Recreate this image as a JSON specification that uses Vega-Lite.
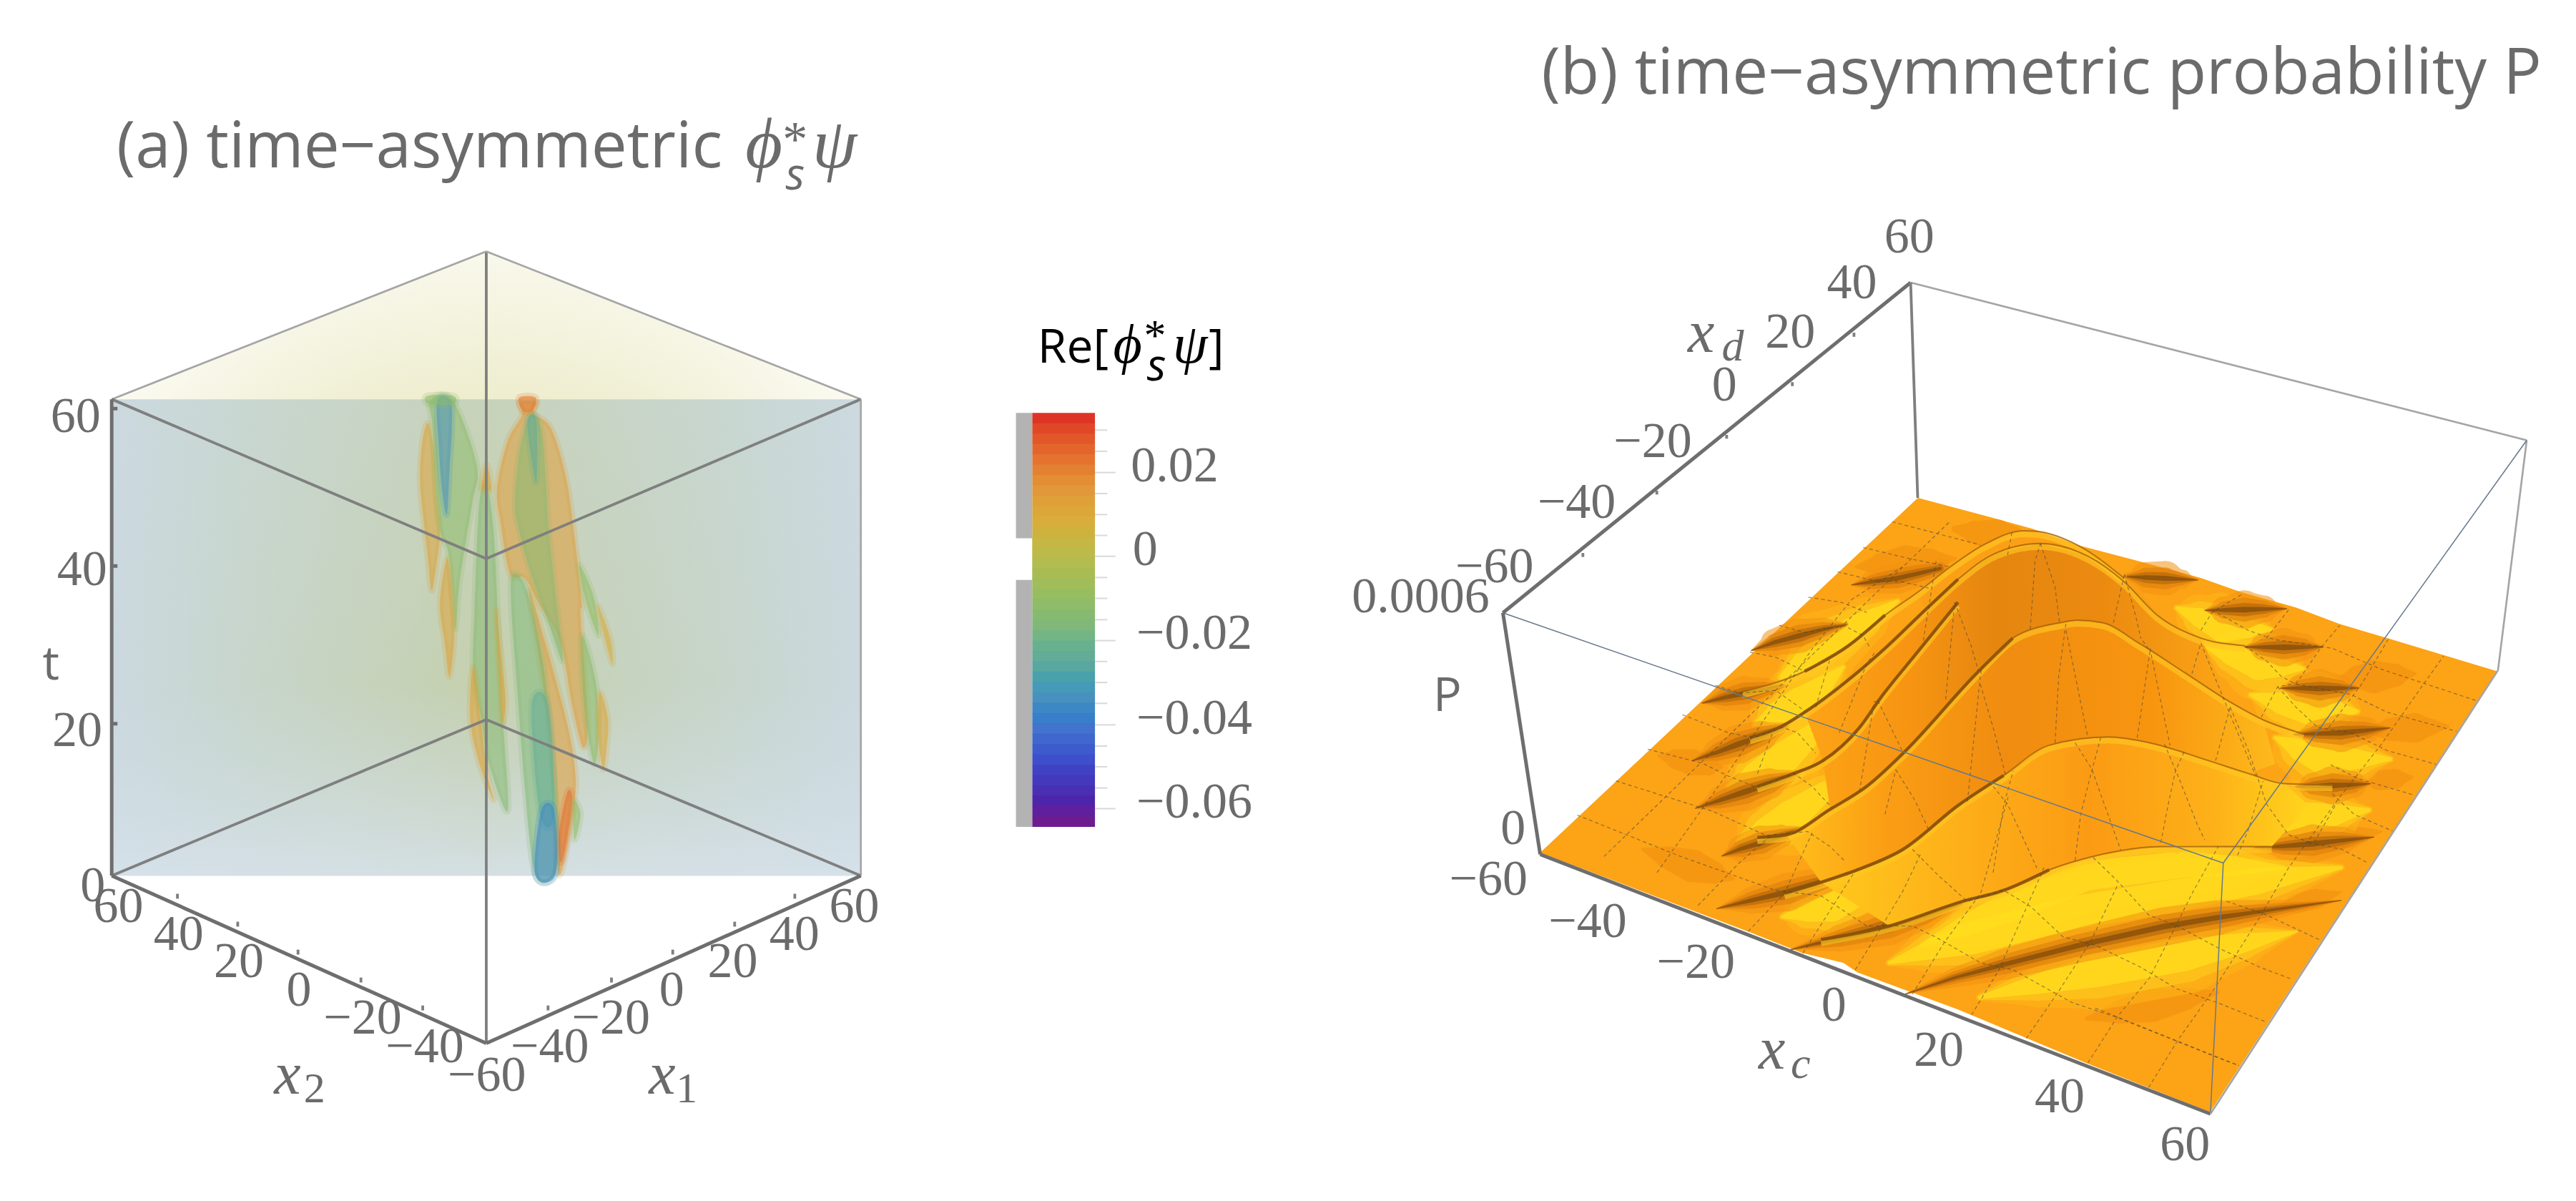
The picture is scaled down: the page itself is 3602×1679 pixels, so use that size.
{
"$schema":"https://vega.github.io/schema/vega-lite/v6.json",
"width":3602,"height":1679,
"autosize":{"type":"fit","contains":"padding"},
"padding":0,
"background":"white",
"config":{"view":{"stroke":null}},
"datasets":{
"rules":[
{"x":296,"y":153,"x2":296,"y2":340,"k":"b"},{"x":68,"y":243,"x2":296,"y2":153,"k":"c"},{"x":524,"y":243,"x2":296,"y2":153,"k":"c"},
{"x":68,"y":243,"x2":296,"y2":340,"k":"b"},{"x":524,"y":243,"x2":296,"y2":340,"k":"b"},{"x":296,"y":340,"x2":296,"y2":635,"k":"b"},
{"x":68,"y":533,"x2":296,"y2":438,"k":"b"},{"x":524,"y":533,"x2":296,"y2":438,"k":"b"},{"x":524,"y":243,"x2":524,"y2":533,"k":"c"},
{"x":68,"y":243,"x2":68,"y2":533,"k":"a"},{"x":68,"y":533,"x2":296,"y2":635,"k":"a"},{"x":524,"y":533,"x2":296,"y2":635,"k":"a"},
{"x":68,"y":248.7,"x2":71.5,"y2":248.7,"k":"a"},{"x":68,"y":344.5,"x2":71.5,"y2":344.5,"k":"a"},{"x":68,"y":440.5,"x2":71.5,"y2":440.5,"k":"a"},
{"x":108,"y":547,"x2":108,"y2":544,"k":"b"},{"x":144.7,"y":564,"x2":144.7,"y2":561,"k":"b"},{"x":181.4,"y":581,"x2":181.4,"y2":578,"k":"b"},{"x":219.7,"y":598,"x2":219.7,"y2":595,"k":"b"},{"x":257.3,"y":615,"x2":257.3,"y2":612,"k":"b"},
{"x":483.8,"y":547,"x2":483.8,"y2":544,"k":"b"},{"x":447.2,"y":564,"x2":447.2,"y2":561,"k":"b"},{"x":409.5,"y":581,"x2":409.5,"y2":578,"k":"b"},{"x":372.2,"y":598,"x2":372.2,"y2":595,"k":"b"},{"x":333.6,"y":615,"x2":333.6,"y2":612,"k":"b"},
{"x":914.8,"y":373,"x2":1163,"y2":172,"k":"a"},{"x":914.8,"y":373,"x2":937.5,"y2":520,"k":"a"},{"x":937.5,"y":520,"x2":1345.5,"y2":678,"k":"a"},
{"x":1163,"y":172,"x2":1538,"y2":268,"k":"c"},{"x":1163,"y":172,"x2":1167.3,"y2":303,"k":"b"},{"x":1538,"y":268,"x2":1520.5,"y2":408,"k":"c"},{"x":1520.5,"y":408,"x2":1345.5,"y2":678,"k":"c"},
{"x":914.8,"y":373,"x2":1353.3,"y2":525.3,"k":"d"},{"x":1538,"y":268,"x2":1353.3,"y2":525.3,"k":"d"},{"x":1353.3,"y":525.3,"x2":1345.5,"y2":677,"k":"d"},
{"x":963.5,"y":336.6,"x2":963.5,"y2":339,"k":"b"},{"x":1008.5,"y":298.7,"x2":1008.5,"y2":301,"k":"b"},{"x":1051,"y":264.7,"x2":1051,"y2":267,"k":"b"},{"x":1091,"y":232.6,"x2":1091,"y2":235,"k":"b"},{"x":1128.5,"y":202.5,"x2":1128.5,"y2":205,"k":"b"}
],
"barTicks":[
{"y":261.8,"x":666.5,"x2":674},{"y":274.7,"x":666.5,"x2":674},{"y":287.6,"x":666.5,"x2":679},{"y":300.4,"x":666.5,"x2":674},{"y":313.2,"x":666.5,"x2":674},{"y":325.9,"x":666.5,"x2":674},{"y":338.6,"x":666.5,"x2":679},{"y":351.5,"x":666.5,"x2":674},{"y":364.2,"x":666.5,"x2":674},{"y":377.2,"x":666.5,"x2":674},{"y":389.9,"x":666.5,"x2":679},{"y":402.6,"x":666.5,"x2":674},{"y":415.4,"x":666.5,"x2":674},{"y":428.1,"x":666.5,"x2":674},{"y":441.2,"x":666.5,"x2":679},{"y":454.1,"x":666.5,"x2":674},{"y":466.7,"x":666.5,"x2":674},{"y":479.6,"x":666.5,"x2":674},{"y":492.2,"x":666.5,"x2":679}
],
"bar":[
{"x":628.3,"x2":666.5,"y":251.3,"y2":258,"v":0.0329},{"x":628.3,"x2":666.5,"y":257.6,"y2":264.3,"v":0.0304},{"x":628.3,"x2":666.5,"y":263.9,"y2":270.6,"v":0.0279},{"x":628.3,"x2":666.5,"y":270.2,"y2":276.9,"v":0.0255},{"x":628.3,"x2":666.5,"y":276.5,"y2":283.2,"v":0.023},{"x":628.3,"x2":666.5,"y":282.8,"y2":289.5,"v":0.0206},{"x":628.3,"x2":666.5,"y":289.1,"y2":295.8,"v":0.0181},{"x":628.3,"x2":666.5,"y":295.4,"y2":302.1,"v":0.0156},{"x":628.3,"x2":666.5,"y":301.7,"y2":308.4,"v":0.0132},{"x":628.3,"x2":666.5,"y":308,"y2":314.7,"v":0.0107},
{"x":628.3,"x2":666.5,"y":314.3,"y2":321,"v":0.0083},{"x":628.3,"x2":666.5,"y":320.6,"y2":327.3,"v":0.0058},{"x":628.3,"x2":666.5,"y":326.9,"y2":333.6,"v":0.0033},{"x":628.3,"x2":666.5,"y":333.2,"y2":339.9,"v":0.0009},{"x":628.3,"x2":666.5,"y":339.5,"y2":346.2,"v":-0.0016},{"x":628.3,"x2":666.5,"y":345.8,"y2":352.5,"v":-0.004},{"x":628.3,"x2":666.5,"y":352.1,"y2":358.8,"v":-0.0065},{"x":628.3,"x2":666.5,"y":358.4,"y2":365.1,"v":-0.009},{"x":628.3,"x2":666.5,"y":364.7,"y2":371.4,"v":-0.0114},{"x":628.3,"x2":666.5,"y":371,"y2":377.7,"v":-0.0139},
{"x":628.3,"x2":666.5,"y":377.3,"y2":384,"v":-0.0163},{"x":628.3,"x2":666.5,"y":383.6,"y2":390.3,"v":-0.0188},{"x":628.3,"x2":666.5,"y":389.9,"y2":396.6,"v":-0.0213},{"x":628.3,"x2":666.5,"y":396.2,"y2":402.9,"v":-0.0237},{"x":628.3,"x2":666.5,"y":402.5,"y2":409.2,"v":-0.0262},{"x":628.3,"x2":666.5,"y":408.8,"y2":415.5,"v":-0.0286},{"x":628.3,"x2":666.5,"y":415.1,"y2":421.8,"v":-0.0311},{"x":628.3,"x2":666.5,"y":421.4,"y2":428.1,"v":-0.0336},{"x":628.3,"x2":666.5,"y":427.7,"y2":434.4,"v":-0.036},{"x":628.3,"x2":666.5,"y":434,"y2":440.7,"v":-0.0385},
{"x":628.3,"x2":666.5,"y":440.3,"y2":447,"v":-0.0409},{"x":628.3,"x2":666.5,"y":446.6,"y2":453.3,"v":-0.0434},{"x":628.3,"x2":666.5,"y":452.9,"y2":459.6,"v":-0.0459},{"x":628.3,"x2":666.5,"y":459.2,"y2":465.9,"v":-0.0483},{"x":628.3,"x2":666.5,"y":465.5,"y2":472.2,"v":-0.0508},{"x":628.3,"x2":666.5,"y":471.8,"y2":478.5,"v":-0.0532},{"x":628.3,"x2":666.5,"y":478.1,"y2":484.8,"v":-0.0557},{"x":628.3,"x2":666.5,"y":484.4,"y2":491.1,"v":-0.0582},{"x":628.3,"x2":666.5,"y":490.7,"y2":497.4,"v":-0.0606},{"x":628.3,"x2":666.5,"y":497,"y2":503.3,"v":-0.0631}
],
"barSide":[{"x":618.4,"x2":628.3,"y":251.3,"y2":327.6},{"x":618.4,"x2":628.3,"y":353,"y2":503.3}],
"stripes":[{"x":72},{"x":78.5},{"x":85},{"x":91.5},{"x":98},{"x":104.5},{"x":111},{"x":117.5},{"x":124},{"x":130.5},{"x":137},{"x":143.5},{"x":150},{"x":156.5},{"x":163},{"x":169.5},{"x":176},{"x":182.5},{"x":189},{"x":195.5},{"x":202},{"x":208.5},{"x":215},{"x":221.5},{"x":228},{"x":234.5},{"x":241},{"x":247.5},{"x":254},{"x":260.5},{"x":267},{"x":273.5},{"x":280},{"x":286.5},{"x":293},{"x":299.5},{"x":306},{"x":312.5},{"x":319},{"x":325.5},{"x":332},{"x":338.5},{"x":345},{"x":351.5},{"x":358},{"x":364.5},{"x":371},{"x":377.5},{"x":384},{"x":390.5},{"x":397},{"x":403.5},{"x":410},{"x":416.5},{"x":423},{"x":429.5},{"x":436},{"x":442.5},{"x":449},{"x":455.5},{"x":462},{"x":468.5},{"x":475},{"x":481.5},{"x":488},{"x":494.5},{"x":501},{"x":507.5},{"x":514},{"x":520.5}],
"volume":[{"x":69,"x2":524,"y":243,"y2":533}],
"top":[{"x":68,"y":243},{"x":296,"y":153},{"x":524,"y":243}],
"blobs":[
{"id":"a1","v":0.012,"x":260.5,"y":257.4},{"id":"a1","v":0.012,"x":256.9,"y":270.1},{"id":"a1","v":0.012,"x":255.7,"y":293.4},{"id":"a1","v":0.012,"x":258.3,"y":320.6},{"id":"a1","v":0.012,"x":260.5,"y":340},{"id":"a1","v":0.012,"x":262.7,"y":359.5},{"id":"a1","v":0.012,"x":265.6,"y":343.9},{"id":"a1","v":0.012,"x":267.8,"y":324.5},{"id":"a1","v":0.012,"x":265.6,"y":303.1},{"id":"a1","v":0.012,"x":264.1,"y":274},
{"id":"a2","v":-0.012,"x":262,"y":243.8},{"id":"a2","v":-0.012,"x":275.7,"y":243.8},{"id":"a2","v":-0.012,"x":290.3,"y":283.7},{"id":"a2","v":-0.012,"x":287.3,"y":307},{"id":"a2","v":-0.012,"x":280.1,"y":351.7},{"id":"a2","v":-0.012,"x":277.2,"y":382.8},{"id":"a2","v":-0.012,"x":275,"y":359.5},{"id":"a2","v":-0.012,"x":272.8,"y":336.1},{"id":"a2","v":-0.012,"x":267.8,"y":322.5},{"id":"a2","v":-0.012,"x":264.9,"y":293.4},{"id":"a2","v":-0.012,"x":263.4,"y":260.4},
{"id":"a3","v":-0.033,"x":266.3,"y":243.8},{"id":"a3","v":-0.033,"x":274.3,"y":243.8},{"id":"a3","v":-0.033,"x":275,"y":260.4},{"id":"a3","v":-0.033,"x":273.6,"y":285.6},{"id":"a3","v":-0.033,"x":272.1,"y":312.8},{"id":"a3","v":-0.033,"x":269.2,"y":299.2},{"id":"a3","v":-0.033,"x":267,"y":270.1},
{"id":"a4","v":0.012,"x":272.1,"y":340},{"id":"a4","v":0.012,"x":267.8,"y":367.2},{"id":"a4","v":0.012,"x":270.7,"y":390.5},{"id":"a4","v":0.012,"x":273.6,"y":411.9},{"id":"a4","v":0.012,"x":276.5,"y":386.7},{"id":"a4","v":0.012,"x":275,"y":361.4},
{"id":"c1","v":-0.014,"x":296,"y":294.4},{"id":"c1","v":-0.014,"x":291.7,"y":307},{"id":"c1","v":-0.014,"x":288.8,"y":371.1},{"id":"c1","v":-0.014,"x":288.1,"y":410},{"id":"c1","v":-0.014,"x":293.2,"y":439.1},{"id":"c1","v":-0.014,"x":297.5,"y":464.4},{"id":"c1","v":-0.014,"x":309.1,"y":493.5},{"id":"c1","v":-0.014,"x":306.2,"y":439.1},{"id":"c1","v":-0.014,"x":303.3,"y":380.8},{"id":"c1","v":-0.014,"x":300.4,"y":322.5},
{"id":"c2","v":0.012,"x":296,"y":282.7},{"id":"c2","v":0.012,"x":293.2,"y":297.3},{"id":"c2","v":0.012,"x":299,"y":297.3},
{"id":"c3","v":0.012,"x":288.1,"y":406},{"id":"c3","v":0.012,"x":286.2,"y":437.2},{"id":"c3","v":0.012,"x":291.7,"y":464.4},{"id":"c3","v":0.012,"x":300.4,"y":486.7},{"id":"c3","v":0.012,"x":296,"y":468.3},{"id":"c3","v":0.012,"x":292.4,"y":437.2},
{"id":"c4","v":0.012,"x":301.9,"y":371.1},{"id":"c4","v":0.012,"x":306.2,"y":410},{"id":"c4","v":0.012,"x":307.7,"y":429.4},{"id":"c4","v":0.012,"x":305.5,"y":439.1},{"id":"c4","v":0.012,"x":304,"y":410},
{"id":"r1","v":0.014,"x":316.4,"y":244.8},{"id":"r1","v":0.014,"x":326.5,"y":244.8},{"id":"r1","v":0.014,"x":325.1,"y":251.6},{"id":"r1","v":0.014,"x":335.2,"y":260.4},{"id":"r1","v":0.014,"x":343.9,"y":287.6},{"id":"r1","v":0.014,"x":349,"y":320.6},{"id":"r1","v":0.014,"x":354.1,"y":367.2},{"id":"r1","v":0.014,"x":353.4,"y":375},{"id":"r1","v":0.014,"x":357.7,"y":439.1},{"id":"r1","v":0.014,"x":354.8,"y":454.7},{"id":"r1","v":0.014,"x":348.3,"y":429.4},{"id":"r1","v":0.014,"x":341,"y":390.5},{"id":"r1","v":0.014,"x":328,"y":367.2},{"id":"r1","v":0.014,"x":319.3,"y":351.7},{"id":"r1","v":0.014,"x":310.6,"y":349.7},{"id":"r1","v":0.014,"x":304.8,"y":318.7},{"id":"r1","v":0.014,"x":302.6,"y":297.3},{"id":"r1","v":0.014,"x":309.1,"y":268.1},{"id":"r1","v":0.014,"x":317.8,"y":252.6},
{"id":"r2","v":-0.014,"x":322.9,"y":252.6},{"id":"r2","v":-0.014,"x":329.4,"y":260.4},{"id":"r2","v":-0.014,"x":332.3,"y":293.4},{"id":"r2","v":-0.014,"x":333.8,"y":320.6},{"id":"r2","v":-0.014,"x":338.1,"y":361.4},{"id":"r2","v":-0.014,"x":342.5,"y":402.2},{"id":"r2","v":-0.014,"x":333.8,"y":378.9},{"id":"r2","v":-0.014,"x":322.2,"y":345.8},{"id":"r2","v":-0.014,"x":316.4,"y":324.5},{"id":"r2","v":-0.014,"x":313.5,"y":307},{"id":"r2","v":-0.014,"x":316.4,"y":274},
{"id":"r3","v":-0.024,"x":321.4,"y":254.5},{"id":"r3","v":-0.024,"x":326.5,"y":256.5},{"id":"r3","v":-0.024,"x":326.5,"y":293.4},{"id":"r3","v":-0.024,"x":322.2,"y":270.1},
{"id":"l2","v":0.014,"x":322.2,"y":359.5},{"id":"l2","v":0.014,"x":332.3,"y":392.5},{"id":"l2","v":0.014,"x":345.4,"y":441.1},{"id":"l2","v":0.014,"x":350,"y":468.3},{"id":"l2","v":0.014,"x":349.7,"y":487.7},{"id":"l2","v":0.014,"x":342.5,"y":528.5},{"id":"l2","v":0.014,"x":338.9,"y":526.6},{"id":"l2","v":0.014,"x":338.1,"y":487.7},{"id":"l2","v":0.014,"x":333.8,"y":439.1},{"id":"l2","v":0.014,"x":326.5,"y":390.5},
{"id":"l1","v":-0.016,"x":312,"y":349.7},{"id":"l1","v":-0.016,"x":320.7,"y":359.5},{"id":"l1","v":-0.016,"x":330.9,"y":406.1},{"id":"l1","v":-0.016,"x":336.7,"y":468.3},{"id":"l1","v":-0.016,"x":339.6,"y":507.1},{"id":"l1","v":-0.016,"x":337.4,"y":532.4},{"id":"l1","v":-0.016,"x":325.8,"y":532.4},{"id":"l1","v":-0.016,"x":319.3,"y":478},{"id":"l1","v":-0.016,"x":314.9,"y":419.7},{"id":"l1","v":-0.016,"x":311.3,"y":371.1},
{"id":"l3","v":0.024,"x":345.4,"y":481.9},{"id":"l3","v":0.024,"x":348.3,"y":487.7},{"id":"l3","v":0.024,"x":343.9,"y":516.8},{"id":"l3","v":0.024,"x":341,"y":524.6},{"id":"l3","v":0.024,"x":340.3,"y":507.1},
{"id":"l5","v":-0.023,"x":323.6,"y":429.4},{"id":"l5","v":-0.023,"x":333.8,"y":429.4},{"id":"l5","v":-0.023,"x":337.4,"y":495.5},{"id":"l5","v":-0.023,"x":328.7,"y":495.5},
{"id":"l4","v":-0.037,"x":329.4,"y":493.5},{"id":"l4","v":-0.037,"x":337.4,"y":493.5},{"id":"l4","v":-0.037,"x":338.1,"y":532.4},{"id":"l4","v":-0.037,"x":325.8,"y":532.4},
{"id":"g1","v":-0.012,"x":354.1,"y":386.7},{"id":"g1","v":-0.012,"x":362.8,"y":415.8},{"id":"g1","v":-0.012,"x":364.3,"y":448.8},{"id":"g1","v":-0.012,"x":361.4,"y":464.4},{"id":"g1","v":-0.012,"x":355.6,"y":429.4},
{"id":"g2","v":0.011,"x":365,"y":421.6},{"id":"g2","v":0.011,"x":370,"y":437.2},{"id":"g2","v":0.011,"x":369.3,"y":454.7},{"id":"g2","v":0.011,"x":367.2,"y":468.3},{"id":"g2","v":0.011,"x":364.3,"y":448.8},
{"id":"g3","v":-0.01,"x":352.6,"y":343.9},{"id":"g3","v":-0.01,"x":361.4,"y":363.3},{"id":"g3","v":-0.01,"x":364.3,"y":386.7},{"id":"g3","v":-0.01,"x":357,"y":367.2},
{"id":"g4","v":0.009,"x":364.3,"y":369.2},{"id":"g4","v":0.009,"x":371.5,"y":388.6},{"id":"g4","v":0.009,"x":372.7,"y":404.1},{"id":"g4","v":0.009,"x":367.2,"y":384.7},
{"id":"g5","v":-0.01,"x":349,"y":487.7},{"id":"g5","v":-0.01,"x":353.4,"y":495.5},{"id":"g5","v":-0.01,"x":349.7,"y":511},
{"id":"t1","v":-0.012,"x":260,"y":241},{"id":"t1","v":-0.012,"x":276,"y":241},{"id":"t1","v":-0.012,"x":276,"y":246},{"id":"t1","v":-0.012,"x":261,"y":246},
{"id":"t2","v":0.022,"x":316,"y":242},{"id":"t2","v":0.022,"x":326,"y":242},{"id":"t2","v":0.022,"x":324,"y":250},{"id":"t2","v":0.022,"x":318,"y":250}
],
"surface":[
{"x":1167.4,"y":303},{"x":1205,"y":313},{"x":1237.6,"y":322},{"x":1264,"y":331.6},{"x":1299.8,"y":341},{"x":1339.7,"y":351.8},{"x":1364,"y":360.4},{"x":1397.5,"y":369.7},{"x":1424,"y":379.8},{"x":1453,"y":388.4},{"x":1520.1,"y":408.6},{"x":1345.3,"y":676.9},{"x":1269.5,"y":646.9},{"x":1191.8,"y":614.4},{"x":1130.7,"y":591.9},{"x":1122,"y":586},{"x":1097,"y":580},{"x":1064,"y":567},{"x":937.5,"y":519}
],
"glow":[
{"id":"g1","x":1085,"y":412,"w":0.2},{"id":"g1","x":1107,"y":396,"w":1},{"id":"g1","x":1135,"y":378,"w":0.6},{"id":"g1","x":1155,"y":366,"w":0.1},
{"id":"g2","x":1068,"y":441,"w":0.1},{"id":"g2","x":1082,"y":434,"w":0.7},{"id":"g2","x":1096,"y":428,"w":1},{"id":"g2","x":1110,"y":417,"w":0.6},{"id":"g2","x":1122,"y":406,"w":0.1},
{"id":"g3","x":1052,"y":479,"w":0.1},{"id":"g3","x":1068,"y":471,"w":0.7},{"id":"g3","x":1085,"y":462,"w":1},{"id":"g3","x":1104,"y":446,"w":0.6},{"id":"g3","x":1122,"y":430,"w":0.1},
{"id":"g4","x":1058,"y":512,"w":0.1},{"id":"g4","x":1074,"y":505,"w":0.7},{"id":"g4","x":1090,"y":497,"w":1},{"id":"g4","x":1110,"y":482,"w":0.6},{"id":"g4","x":1128,"y":468,"w":0.1},
{"id":"g5","x":1085,"y":558,"w":0.1},{"id":"g5","x":1100,"y":555,"w":0.6},{"id":"g5","x":1115,"y":552,"w":0.9},{"id":"g5","x":1150,"y":535,"w":0.5},{"id":"g5","x":1165,"y":525,"w":0.1},
{"id":"g6","x":1170,"y":575,"w":0.1},{"id":"g6","x":1195,"y":564,"w":0.6},{"id":"g6","x":1220,"y":553,"w":0.9},{"id":"g6","x":1270,"y":533,"w":0.9},{"id":"g6","x":1330,"y":526,"w":0.8},{"id":"g6","x":1360,"y":527,"w":0.6},{"id":"g6","x":1390,"y":528,"w":0.1},
{"id":"g7","x":1150,"y":586,"w":0.1},{"id":"g7","x":1175,"y":578,"w":0.6},{"id":"g7","x":1200,"y":571,"w":1},{"id":"g7","x":1260,"y":556,"w":1},{"id":"g7","x":1320,"y":546,"w":1},{"id":"g7","x":1375,"y":536,"w":0.8},{"id":"g7","x":1425,"y":528,"w":0.1},
{"id":"g8","x":1205,"y":607,"w":0.1},{"id":"g8","x":1240,"y":599,"w":0.6},{"id":"g8","x":1275,"y":591,"w":1},{"id":"g8","x":1330,"y":581,"w":1},{"id":"g8","x":1365,"y":574,"w":0.6},{"id":"g8","x":1398,"y":567,"w":0.05},
{"id":"h1","x":1325,"y":370,"w":0.1},{"id":"h1","x":1339,"y":376,"w":0.6},{"id":"h1","x":1353,"y":382,"w":0.9},{"id":"h1","x":1368,"y":382.5,"w":0.6},{"id":"h1","x":1382,"y":383,"w":0.1},
{"id":"h2","x":1342,"y":393,"w":0.1},{"id":"h2","x":1358,"y":399,"w":0.6},{"id":"h2","x":1375,"y":405,"w":0.9},{"id":"h2","x":1388,"y":406,"w":0.6},{"id":"h2","x":1402,"y":407,"w":0.1},
{"id":"h3","x":1370,"y":423,"w":0.1},{"id":"h3","x":1389,"y":428,"w":0.7},{"id":"h3","x":1408,"y":432,"w":1},{"id":"h3","x":1422,"y":432.5,"w":0.6},{"id":"h3","x":1435,"y":433,"w":0.1},
{"id":"h4","x":1385,"y":449,"w":0.1},{"id":"h4","x":1400,"y":456,"w":0.7},{"id":"h4","x":1415,"y":462,"w":1},{"id":"h4","x":1435,"y":462,"w":0.6},{"id":"h4","x":1455,"y":462,"w":0.1},
{"id":"h5","x":1365,"y":488,"w":0.1},{"id":"h5","x":1381,"y":493,"w":0.7},{"id":"h5","x":1397,"y":498,"w":1},{"id":"h5","x":1420,"y":496,"w":0.7},{"id":"h5","x":1442,"y":493,"w":0.1}
],
"faint":[
{"id":"f1","x":1190,"y":322,"w":0.2},{"id":"f1","x":1202,"y":324,"w":0.7},{"id":"f1","x":1215,"y":326,"w":1},{"id":"f1","x":1225,"y":327,"w":0.7},{"id":"f1","x":1235,"y":328,"w":0.1},
{"id":"f2","x":1130,"y":345,"w":0.1},{"id":"f2","x":1145,"y":343.5,"w":0.7},{"id":"f2","x":1160,"y":342,"w":1},{"id":"f2","x":1175,"y":341,"w":0.7},{"id":"f2","x":1190,"y":340,"w":0.1},
{"id":"f3","x":1010,"y":460,"w":0.1},{"id":"f3","x":1020,"y":462,"w":0.6},{"id":"f3","x":1030,"y":464,"w":0.8},{"id":"f3","x":1040,"y":466,"w":0.6},{"id":"f3","x":1048,"y":467,"w":0.1},
{"id":"f4","x":1000,"y":517,"w":0.1},{"id":"f4","x":1015,"y":522,"w":0.7},{"id":"f4","x":1030,"y":527,"w":1},{"id":"f4","x":1043,"y":531,"w":0.7},{"id":"f4","x":1055,"y":535,"w":0.1},
{"id":"f5","x":1270,"y":620,"w":0.1},{"id":"f5","x":1290,"y":616,"w":0.7},{"id":"f5","x":1310,"y":612,"w":1},{"id":"f5","x":1330,"y":608,"w":0.7},{"id":"f5","x":1350,"y":604,"w":0.1},
{"id":"f6","x":1425,"y":412,"w":0.1},{"id":"f6","x":1435,"y":412,"w":0.7},{"id":"f6","x":1445,"y":412,"w":1},{"id":"f6","x":1458,"y":411,"w":0.7},{"id":"f6","x":1470,"y":410,"w":0.1},
{"id":"f7","x":1440,"y":445,"w":0.1},{"id":"f7","x":1455,"y":444,"w":0.7},{"id":"f7","x":1470,"y":443,"w":0.9},{"id":"f7","x":1480,"y":442.5,"w":0.5},{"id":"f7","x":1490,"y":442,"w":0.1},
{"id":"f8","x":1438,"y":476,"w":0.1},{"id":"f8","x":1448,"y":475,"w":0.6},{"id":"f8","x":1458,"y":474,"w":0.6},{"id":"f8","x":1468,"y":473,"w":0.1},
{"id":"f9","x":1385,"y":553,"w":0.1},{"id":"f9","x":1397,"y":550,"w":0.6},{"id":"f9","x":1410,"y":547,"w":0.6},{"id":"f9","x":1425,"y":543,"w":0.05},
{"id":"f10","x":1380,"y":513,"w":0.1},{"id":"f10","x":1410,"y":511,"w":0.7},{"id":"f10","x":1430,"y":509,"w":0.7},{"id":"f10","x":1450,"y":506,"w":0.05}
],
"streaks":[
{"id":"s0","x":1127,"y":356,"w":0},{"id":"s0","x":1140,"y":354,"w":0.6},{"id":"s0","x":1155,"y":352,"w":0.8},{"id":"s0","x":1168,"y":349,"w":0.7},{"id":"s0","x":1181,"y":346,"w":0.5},
{"id":"s1","x":1066,"y":396,"w":0},{"id":"s1","x":1080,"y":391,"w":0.7},{"id":"s1","x":1095,"y":387,"w":0.9},{"id":"s1","x":1110,"y":383,"w":0.6},{"id":"s1","x":1124,"y":380,"w":0.1},
{"id":"s2","x":1036,"y":428,"w":0},{"id":"s2","x":1050,"y":424.5,"w":0.7},{"id":"s2","x":1062,"y":422,"w":0.9},{"id":"s2","x":1074,"y":419.5,"w":0.6},{"id":"s2","x":1086,"y":417,"w":0.1},
{"id":"s3","x":1030,"y":463,"w":0},{"id":"s3","x":1045,"y":458,"w":0.7},{"id":"s3","x":1058,"y":453,"w":1},{"id":"s3","x":1072,"y":448,"w":0.8},{"id":"s3","x":1087,"y":442,"w":0.2},
{"id":"s4","x":1032,"y":492,"w":0},{"id":"s4","x":1047,"y":487,"w":0.7},{"id":"s4","x":1062,"y":482,"w":1},{"id":"s4","x":1077,"y":477,"w":0.8},{"id":"s4","x":1093,"y":471,"w":0.2},
{"id":"s5","x":1048,"y":521,"w":0},{"id":"s5","x":1060,"y":516.5,"w":0.7},{"id":"s5","x":1072,"y":513,"w":0.9},{"id":"s5","x":1084,"y":509,"w":0.6},{"id":"s5","x":1097,"y":504,"w":0.1},
{"id":"s6","x":1045,"y":553,"w":0},{"id":"s6","x":1066,"y":548,"w":0.7},{"id":"s6","x":1088,"y":543,"w":1},{"id":"s6","x":1110,"y":536,"w":0.7},{"id":"s6","x":1132,"y":529,"w":0.1},
{"id":"s7","x":1090,"y":578,"w":0},{"id":"s7","x":1120,"y":571,"w":0.7},{"id":"s7","x":1150,"y":563.6,"w":1},{"id":"s7","x":1172,"y":557,"w":0.7},{"id":"s7","x":1194,"y":550,"w":0.1},
{"id":"s8","x":1160,"y":605,"w":0},{"id":"s8","x":1190,"y":595,"w":0.5},{"id":"s8","x":1220,"y":587,"w":0.8},{"id":"s8","x":1267,"y":575,"w":0.9},{"id":"s8","x":1317,"y":564,"w":1},{"id":"s8","x":1350,"y":558.5,"w":0.9},{"id":"s8","x":1385,"y":553.5,"w":0.5},{"id":"s8","x":1425,"y":548,"w":0},
{"id":"t0","x":1295,"y":351,"w":0.2},{"id":"t0","x":1306,"y":351.5,"w":0.8},{"id":"t0","x":1318,"y":352,"w":0.9},{"id":"t0","x":1328,"y":352.5,"w":0.5},{"id":"t0","x":1338,"y":353,"w":0},
{"id":"t1","x":1342,"y":371.5,"w":0},{"id":"t1","x":1354,"y":371.3,"w":0.7},{"id":"t1","x":1366,"y":371,"w":1},{"id":"t1","x":1378,"y":370.7,"w":0.7},{"id":"t1","x":1392,"y":370.5,"w":0},
{"id":"t2","x":1366,"y":393.8,"w":0},{"id":"t2","x":1378,"y":393.9,"w":0.7},{"id":"t2","x":1390,"y":394,"w":1},{"id":"t2","x":1402,"y":393.9,"w":0.7},{"id":"t2","x":1414,"y":393.8,"w":0},
{"id":"t3","x":1388,"y":418.8,"w":0},{"id":"t3","x":1400,"y":418.9,"w":0.7},{"id":"t3","x":1412,"y":419,"w":1},{"id":"t3","x":1424,"y":418.9,"w":0.7},{"id":"t3","x":1436,"y":418.7,"w":0},
{"id":"t4","x":1396,"y":447,"w":0},{"id":"t4","x":1410,"y":446.6,"w":0.7},{"id":"t4","x":1425,"y":446,"w":1},{"id":"t4","x":1440,"y":444.6,"w":0.7},{"id":"t4","x":1455,"y":443,"w":0},
{"id":"t5","x":1397,"y":478.8,"w":0},{"id":"t5","x":1408,"y":478.5,"w":0.7},{"id":"t5","x":1420,"y":478,"w":1},{"id":"t5","x":1432,"y":477.6,"w":0.7},{"id":"t5","x":1443,"y":477,"w":0},
{"id":"t6","x":1372,"y":516,"w":0},{"id":"t6","x":1390,"y":515,"w":0.7},{"id":"t6","x":1408,"y":513.5,"w":1},{"id":"t6","x":1426,"y":511.5,"w":0.7},{"id":"t6","x":1445,"y":509.5,"w":0}
],
"faces":[
{"id":"f0","x":1167.4,"y":360.4},{"id":"f0","x":1187.4,"y":344.8},{"id":"f0","x":1207.4,"y":331.6},{"id":"f0","x":1231.8,"y":323},{"id":"f0","x":1239.8,"y":323.4},{"id":"f0","x":1264.2,"y":331.6},{"id":"f0","x":1293,"y":352},{"id":"f0","x":1302,"y":358},{"id":"f0","x":1313,"y":374},{"id":"f0","x":1293,"y":354},{"id":"f0","x":1270.9,"y":338.6},{"id":"f0","x":1242,"y":330.8},{"id":"f0","x":1214,"y":337},{"id":"f0","x":1191.8,"y":352.6},{"id":"f0","x":1171.8,"y":371.3},
{"id":"f1","x":1098.5,"y":433.5},{"id":"f1","x":1129.6,"y":410.1},{"id":"f1","x":1147.4,"y":394.6},{"id":"f1","x":1171.8,"y":371.3},{"id":"f1","x":1191.8,"y":352.6},{"id":"f1","x":1214,"y":337},{"id":"f1","x":1241.8,"y":330.8},{"id":"f1","x":1270.9,"y":338.6},{"id":"f1","x":1293.1,"y":354.2},{"id":"f1","x":1313.1,"y":374.4},{"id":"f1","x":1330,"y":386},{"id":"f1","x":1339.7,"y":388.4},{"id":"f1","x":1357.5,"y":427.3},{"id":"f1","x":1330.9,"y":410.1},{"id":"f1","x":1302,"y":391.5},{"id":"f1","x":1279.8,"y":379},{"id":"f1","x":1264.2,"y":377.5},{"id":"f1","x":1254,"y":379},{"id":"f1","x":1225.1,"y":388.4},{"id":"f1","x":1202.9,"y":410.1},{"id":"f1","x":1158.5,"y":458.4},{"id":"f1","x":1136.3,"y":478.6},{"id":"f1","x":1114,"y":492.6},{"id":"f1","x":1109.6,"y":463},
{"id":"f3","x":1087.4,"y":508.1},{"id":"f3","x":1114,"y":492.6},{"id":"f3","x":1136.3,"y":478.6},{"id":"f3","x":1158.5,"y":458.4},{"id":"f3","x":1202.9,"y":410.1},{"id":"f3","x":1225.1,"y":388.4},{"id":"f3","x":1254,"y":379},{"id":"f3","x":1264.2,"y":377.5},{"id":"f3","x":1279.8,"y":379},{"id":"f3","x":1302,"y":391.5},{"id":"f3","x":1330.9,"y":410.1},{"id":"f3","x":1357.5,"y":427.3},{"id":"f3","x":1377.5,"y":438.1},{"id":"f3","x":1385,"y":465},{"id":"f3","x":1368.6,"y":470.8},{"id":"f3","x":1342,"y":462.2},{"id":"f3","x":1308.7,"y":452.1},{"id":"f3","x":1282,"y":449},{"id":"f3","x":1262.5,"y":450},{"id":"f3","x":1225.1,"y":469.2},{"id":"f3","x":1191.8,"y":490.3},{"id":"f3","x":1158.5,"y":516.9},{"id":"f3","x":1130.7,"y":529.4},{"id":"f3","x":1108.5,"y":537},
{"id":"f4","x":1108.5,"y":537},{"id":"f4","x":1130.7,"y":529.4},{"id":"f4","x":1158.5,"y":516.9},{"id":"f4","x":1191.8,"y":490.3},{"id":"f4","x":1225.1,"y":469.2},{"id":"f4","x":1247.3,"y":453.6},{"id":"f4","x":1283.4,"y":448.6},{"id":"f4","x":1308.7,"y":452.1},{"id":"f4","x":1342,"y":462.2},{"id":"f4","x":1368.6,"y":470.8},{"id":"f4","x":1390.8,"y":477},{"id":"f4","x":1405,"y":490},{"id":"f4","x":1382.8,"y":515.3},{"id":"f4","x":1325.3,"y":514.4},{"id":"f4","x":1316.7,"y":515.3},{"id":"f4","x":1275,"y":521},{"id":"f4","x":1247.3,"y":529.4},{"id":"f4","x":1219.6,"y":541.9},{"id":"f4","x":1194.6,"y":548.6},{"id":"f4","x":1150,"y":563.6}
],
"ridges":[
{"id":"c0","x":1060.8,"y":421,"w":0},{"id":"c0","x":1098.5,"y":408.6,"w":0.5},{"id":"c0","x":1125.2,"y":393,"w":0.5},{"id":"c0","x":1147.4,"y":374.4,"w":0.5},{"id":"c0","x":1167.4,"y":360.4,"w":0.4},{"id":"c0","x":1187.4,"y":344.8,"w":0.4},{"id":"c0","x":1207.4,"y":331.6,"w":0.25},{"id":"c0","x":1231.8,"y":323,"w":0.1},{"id":"c0","x":1239.8,"y":323.4,"w":0.1},{"id":"c0","x":1264.2,"y":331.6,"w":0.1},{"id":"c0","x":1293,"y":352,"w":0.2},
{"id":"c1","x":1065.2,"y":449,"w":0.8},{"id":"c1","x":1083,"y":442.8,"w":0.9},{"id":"c1","x":1098.5,"y":433.5,"w":1},{"id":"c1","x":1129.6,"y":410.1,"w":0.9},{"id":"c1","x":1147.4,"y":394.6,"w":0.8},{"id":"c1","x":1171.8,"y":371.3,"w":0.7},{"id":"c1","x":1191.8,"y":352.6,"w":0.6},{"id":"c1","x":1214,"y":337,"w":0.3},{"id":"c1","x":1241.8,"y":330.8,"w":0.15},{"id":"c1","x":1270.9,"y":338.6,"w":0.2},{"id":"c1","x":1293.1,"y":354.2,"w":0.3},{"id":"c1","x":1313.1,"y":374.4,"w":0.3},{"id":"c1","x":1339.7,"y":388.4,"w":0.4},{"id":"c1","x":1366.4,"y":393,"w":0.3},
{"id":"c2","x":1069.7,"y":478.6,"w":0.8},{"id":"c2","x":1091.9,"y":470.8,"w":1},{"id":"c2","x":1109.6,"y":463,"w":1},{"id":"c2","x":1131.9,"y":442.8,"w":1},{"id":"c2","x":1145.2,"y":424.1,"w":0.9},{"id":"c2","x":1165.2,"y":399.3,"w":0.8},{"id":"c2","x":1191.8,"y":366.6,"w":0.6},
{"id":"c3","x":1069.7,"y":509.7,"w":0.5},{"id":"c3","x":1087.4,"y":508.1,"w":0.8},{"id":"c3","x":1114,"y":492.6,"w":1},{"id":"c3","x":1136.3,"y":478.6,"w":1},{"id":"c3","x":1158.5,"y":458.4,"w":1},{"id":"c3","x":1202.9,"y":410.1,"w":0.9},{"id":"c3","x":1225.1,"y":388.4,"w":0.5},{"id":"c3","x":1254,"y":379,"w":0.2},{"id":"c3","x":1264.2,"y":377.5,"w":0.1},{"id":"c3","x":1279.8,"y":379,"w":0.15},{"id":"c3","x":1302,"y":391.5,"w":0.2},{"id":"c3","x":1330.9,"y":410.1,"w":0.3},{"id":"c3","x":1357.5,"y":427.3,"w":0.35},{"id":"c3","x":1377.5,"y":438.1,"w":0.35},{"id":"c3","x":1402,"y":446.7,"w":0.45},
{"id":"c4","x":1086.3,"y":543.6,"w":0.6},{"id":"c4","x":1108.5,"y":537,"w":0.8},{"id":"c4","x":1130.7,"y":529.4,"w":1},{"id":"c4","x":1158.5,"y":516.9,"w":1},{"id":"c4","x":1191.8,"y":490.3,"w":1},{"id":"c4","x":1219.6,"y":472,"w":0.8},{"id":"c4","x":1247.3,"y":453.6,"w":0.4},{"id":"c4","x":1283.4,"y":448.6,"w":0.15},{"id":"c4","x":1308.7,"y":452.1,"w":0.2},{"id":"c4","x":1342,"y":462.2,"w":0.35},{"id":"c4","x":1368.6,"y":470.8,"w":0.45},{"id":"c4","x":1390.8,"y":477,"w":0.45},{"id":"c4","x":1419.7,"y":477.8,"w":0.45},
{"id":"c5","x":1108.5,"y":571.9,"w":0.5},{"id":"c5","x":1150,"y":563.6,"w":0.8},{"id":"c5","x":1194.6,"y":548.6,"w":1},{"id":"c5","x":1219.6,"y":541.9,"w":0.9},{"id":"c5","x":1247.3,"y":529.4,"w":0.6},{"id":"c5","x":1275,"y":521,"w":0.4},{"id":"c5","x":1316.7,"y":515.3,"w":0.2},{"id":"c5","x":1382.8,"y":515.3,"w":0.4}
],
"mesh":[
{"id":"m1","x":1151.8,"y":317.6},{"id":"m1","x":1205.2,"y":331.6},
{"id":"m2","x":1134.1,"y":333.2},{"id":"m2","x":1163,"y":340.2},{"id":"m2","x":1187.4,"y":345.1},
{"id":"m3","x":1118.5,"y":348},{"id":"m3","x":1140.7,"y":353.4},{"id":"m3","x":1158.5,"y":354.2},{"id":"m3","x":1174,"y":358},
{"id":"m4","x":1100.8,"y":363.5},{"id":"m4","x":1120.8,"y":366.6},{"id":"m4","x":1136.3,"y":372.8},
{"id":"m5","x":1083,"y":380.6},{"id":"m5","x":1098.5,"y":385},{"id":"m5","x":1123,"y":381},{"id":"m5","x":1134,"y":386.8},{"id":"m5","x":1138.5,"y":394.6},
{"id":"m6","x":1065.2,"y":396.9},{"id":"m6","x":1080.8,"y":400},{"id":"m6","x":1098.5,"y":408.6},
{"id":"m7","x":1044.1,"y":417.1},{"id":"m7","x":1058.6,"y":421.8},{"id":"m7","x":1080.8,"y":420.2},{"id":"m7","x":1098.5,"y":432.7},
{"id":"m8","x":1024.1,"y":435},{"id":"m8","x":1051.9,"y":445.9},{"id":"m8","x":1067.4,"y":449},{"id":"m8","x":1085.2,"y":442.8},{"id":"m8","x":1094.1,"y":446},{"id":"m8","x":1105.2,"y":458.4},
{"id":"m9","x":1003,"y":456},{"id":"m9","x":1036.4,"y":464.6},{"id":"m9","x":1051.9,"y":472.3},{"id":"m9","x":1069.7,"y":479.3},{"id":"m9","x":1091.9,"y":470.8},{"id":"m9","x":1103,"y":478.6},{"id":"m9","x":1115.2,"y":491.8},
{"id":"m10","x":983.6,"y":475.3},{"id":"m10","x":1041.9,"y":493.6},{"id":"m10","x":1075.2,"y":508.6},{"id":"m10","x":1100.2,"y":506.1},{"id":"m10","x":1114,"y":515.3},{"id":"m10","x":1122.4,"y":523.6},
{"id":"m10b","x":1164,"y":516.9},{"id":"m10b","x":1180.7,"y":533.6},{"id":"m10b","x":1197.4,"y":548.6},{"id":"m10b","x":1219.6,"y":541.9},{"id":"m10b","x":1236.2,"y":551.9},{"id":"m10b","x":1255.7,"y":570.2},{"id":"m10b","x":1275.1,"y":575.2},{"id":"m10b","x":1302.8,"y":588.6},{"id":"m10b","x":1325,"y":601.9},{"id":"m10b","x":1349.5,"y":610.2},{"id":"m10b","x":1379,"y":621.9},
{"id":"m11","x":960,"y":496.1},{"id":"m11","x":1022.5,"y":521.1},{"id":"m11","x":1080.8,"y":541.9},{"id":"m11","x":1108.5,"y":545.3},{"id":"m11","x":1136.3,"y":563.6},{"id":"m11","x":1164,"y":563.6},{"id":"m11","x":1178,"y":570.2},{"id":"m11","x":1205.7,"y":586.1},{"id":"m11","x":1225.1,"y":590.2},{"id":"m11","x":1261.2,"y":610.2},{"id":"m11","x":1289,"y":619.4},{"id":"m11","x":1349.5,"y":643.6},{"id":"m11","x":1362.8,"y":648.6},
{"id":"m12","x":1274.1,"y":521.9},{"id":"m12","x":1287.9,"y":535.3},{"id":"m12","x":1307.9,"y":556.9},{"id":"m12","x":1325.3,"y":563.6},{"id":"m12","x":1350.3,"y":577},{"id":"m12","x":1375.3,"y":588.6},{"id":"m12","x":1395.3,"y":596.1},
{"id":"m13","x":1346.4,"y":371.3},{"id":"m13","x":1368.6,"y":383.7},{"id":"m13","x":1384.2,"y":389.2},{"id":"m13","x":1408.6,"y":393},{"id":"m13","x":1419.7,"y":394.6},{"id":"m13","x":1448.6,"y":407},{"id":"m13","x":1507.4,"y":426.5},
{"id":"m14","x":1366.4,"y":393},{"id":"m14","x":1379.7,"y":402.4},{"id":"m14","x":1388.6,"y":411.7},{"id":"m14","x":1397.5,"y":416.4},{"id":"m14","x":1430.8,"y":422.6},{"id":"m14","x":1453,"y":433.5},{"id":"m14","x":1495.2,"y":445.1},
{"id":"m15","x":1386.4,"y":418},{"id":"m15","x":1397.5,"y":430.4},{"id":"m15","x":1410.8,"y":442.8},{"id":"m15","x":1430.8,"y":445.9},{"id":"m15","x":1453,"y":456.8},{"id":"m15","x":1483,"y":465.3},
{"id":"m16","x":1418.6,"y":465.4},{"id":"m16","x":1435.2,"y":473.9},{"id":"m16","x":1469.7,"y":484},
{"id":"m17","x":1419.7,"y":483.2},{"id":"m17","x":1433,"y":495.7},{"id":"m17","x":1456.4,"y":505.8},
{"id":"m18","x":1405.3,"y":512.8},{"id":"m18","x":1425.3,"y":516.9},{"id":"m18","x":1441.5,"y":525.3},
{"id":"m19","x":1355.3,"y":548.6},{"id":"m19","x":1377.8,"y":556.1},{"id":"m19","x":1411.6,"y":571.9},
{"id":"m20","x":1275.4,"y":613.6},{"id":"m20","x":1325.3,"y":633.6},{"id":"m20","x":1362.8,"y":648.6},
{"id":"k1","x":976.4,"y":521.3},{"id":"k1","x":1187.4,"y":316.9},
{"id":"k2","x":1008.6,"y":531.1},{"id":"k2","x":1052,"y":470},{"id":"k2","x":1078,"y":432},{"id":"k2","x":1103,"y":395},{"id":"k2","x":1127,"y":365},{"id":"k2","x":1158,"y":345},
{"id":"n1","x":1033.6,"y":551.1},{"id":"n1","x":1058.6,"y":525.3},{"id":"n1","x":1078,"y":508.6},
{"id":"n2","x":1064.1,"y":566.9},{"id":"n2","x":1086.3,"y":543.6},{"id":"n2","x":1103,"y":507},
{"id":"n3","x":1097.4,"y":580.2},{"id":"n3","x":1128,"y":532},
{"id":"n4","x":1129.3,"y":590.2},{"id":"n4","x":1144.6,"y":565.2},{"id":"n4","x":1158.5,"y":542},{"id":"n4","x":1169.6,"y":518.6},
{"id":"n5","x":1164,"y":605.2},{"id":"n5","x":1183.5,"y":573.6},{"id":"n5","x":1205.7,"y":543.6},{"id":"n5","x":1222.3,"y":485.3},
{"id":"n6","x":1200.1,"y":617.7},{"id":"n6","x":1216.8,"y":590.2},{"id":"n6","x":1241.8,"y":533.6},{"id":"n6","x":1244.6,"y":527},
{"id":"n7","x":1233.4,"y":632},{"id":"n7","x":1252.9,"y":603.6},{"id":"n7","x":1272.3,"y":573.6},{"id":"n7","x":1289,"y":538.6},
{"id":"n8","x":1270.9,"y":646.9},{"id":"n8","x":1289,"y":618.6},{"id":"n8","x":1308.4,"y":595.2},{"id":"n8","x":1335.3,"y":541.9},{"id":"n8","x":1350.3,"y":515.3},
{"id":"n9","x":1307.9,"y":661.9},{"id":"n9","x":1325.3,"y":633.6},{"id":"n9","x":1347.8,"y":601.9},{"id":"n9","x":1375.3,"y":558.6},{"id":"n9","x":1392.8,"y":528.6},{"id":"n9","x":1422.8,"y":487},{"id":"n9","x":1450.3,"y":452},{"id":"n9","x":1474.1,"y":417.9},{"id":"n9","x":1487.4,"y":399.3},
{"id":"n10","x":1408.6,"y":512.8},{"id":"n10","x":1421.9,"y":489.5},
{"id":"n11","x":1417.5,"y":442.8},{"id":"n11","x":1437.5,"y":416.4},{"id":"n11","x":1454.1,"y":388.4},
{"id":"n12","x":1397.5,"y":416.4},{"id":"n12","x":1413,"y":393.8},{"id":"n12","x":1424.2,"y":380.6},
{"id":"n13","x":1379.7,"y":388.4},{"id":"n13","x":1394.2,"y":369.7},
{"id":"n14","x":1339.7,"y":383.7},{"id":"n14","x":1346.4,"y":372.8},{"id":"n14","x":1364.2,"y":362},
{"id":"v1","x":1222,"y":337.8},{"id":"v1","x":1224.7,"y":323.8},
{"id":"v2","x":1235.8,"y":382.9},{"id":"v2","x":1238.7,"y":341.7},{"id":"v2","x":1242,"y":330.8},
{"id":"v3","x":1250.9,"y":452.1},{"id":"v3","x":1253.1,"y":411.7},{"id":"v3","x":1257.6,"y":379},
{"id":"v4","x":1242,"y":330.8},{"id":"v4","x":1250.9,"y":357.3},{"id":"v4","x":1253.6,"y":379},
{"id":"v5","x":1257.6,"y":383.7},{"id":"v5","x":1264.2,"y":416.4},{"id":"v5","x":1270.9,"y":449},
{"id":"v6","x":1286.4,"y":379},{"id":"v6","x":1293.1,"y":349.5},
{"id":"v7","x":1293.1,"y":349.5},{"id":"v7","x":1299.8,"y":374.4},{"id":"v7","x":1303.1,"y":388.4},
{"id":"v8","x":1300.9,"y":449},{"id":"v8","x":1308.7,"y":396.2},{"id":"v8","x":1303.1,"y":388.4},
{"id":"v9","x":1308.7,"y":394.6},{"id":"v9","x":1315.3,"y":427.2},{"id":"v9","x":1320.9,"y":453.7},
{"id":"v10","x":1334.2,"y":410.1},{"id":"v10","x":1339.7,"y":391.5},
{"id":"v11","x":1339.7,"y":391.5},{"id":"v11","x":1353,"y":424.1},{"id":"v11","x":1373,"y":472.3},
{"id":"v12","x":1348.6,"y":463},{"id":"v12","x":1357.5,"y":430.4},
{"id":"v13","x":1357.5,"y":430.4},{"id":"v13","x":1368.6,"y":456.8},{"id":"v13","x":1379.7,"y":489.5},{"id":"v13","x":1393,"y":508.1},{"id":"v13","x":1406.4,"y":512.8},
{"id":"v14","x":1376.4,"y":436.6},{"id":"v14","x":1386.4,"y":418},{"id":"v14","x":1397,"y":416},
{"id":"v15","x":1197.6,"y":487.9},{"id":"v15","x":1205.4,"y":411.7},{"id":"v15","x":1206.5,"y":405.5},
{"id":"v16","x":1184.3,"y":425.7},{"id":"v16","x":1189.8,"y":366.6},
{"id":"v17","x":1205.4,"y":416.4},{"id":"v17","x":1213.2,"y":442.8},{"id":"v17","x":1220.9,"y":472.3},
{"id":"v18","x":1189.8,"y":366.6},{"id":"v18","x":1199.8,"y":393},{"id":"v18","x":1204.3,"y":408.6},
{"id":"v19","x":1263.1,"y":452.1},{"id":"v19","x":1273.1,"y":467.7},{"id":"v19","x":1286.4,"y":505},{"id":"v19","x":1290.9,"y":517.4},
{"id":"v20","x":1263.1,"y":523.7},{"id":"v20","x":1266.5,"y":495.7},{"id":"v20","x":1272,"y":473.9},{"id":"v20","x":1278.7,"y":449},
{"id":"v21","x":1317.5,"y":452.9},{"id":"v21","x":1326.4,"y":473.9},{"id":"v21","x":1337.5,"y":501.9},{"id":"v21","x":1342,"y":511.2},
{"id":"v22","x":1315.3,"y":512.8},{"id":"v22","x":1319.8,"y":489.5},{"id":"v22","x":1324.2,"y":469.2},{"id":"v22","x":1329.8,"y":456.8},
{"id":"v23","x":1213.2,"y":531.1},{"id":"v23","x":1219.8,"y":489.5},{"id":"v23","x":1225.4,"y":469.2},
{"id":"v24","x":1213.2,"y":478.6},{"id":"v24","x":1222,"y":489.5},{"id":"v24","x":1239.8,"y":528.3},
{"id":"v25","x":1362,"y":520.5},{"id":"v25","x":1368.6,"y":505},{"id":"v25","x":1377.5,"y":475.5},
{"id":"v28","x":1170.7,"y":389.9},{"id":"v28","x":1178.5,"y":341.7},
{"id":"v30","x":1119.6,"y":445.9},{"id":"v30","x":1136.3,"y":404},{"id":"v30","x":1142,"y":396},
{"id":"v31","x":1131.9,"y":481.7},{"id":"v31","x":1140.7,"y":427.2},{"id":"v31","x":1143,"y":426.5},
{"id":"v32","x":1143,"y":426.5},{"id":"v32","x":1151.8,"y":444.4},{"id":"v32","x":1158.5,"y":458.4},
{"id":"v35","x":1154,"y":468.5},{"id":"v35","x":1165.2,"y":486.4},{"id":"v35","x":1174,"y":505},
{"id":"v36","x":1147.4,"y":495.7},{"id":"v36","x":1154,"y":468.5},
{"id":"v38","x":1105.2,"y":430.4},{"id":"v38","x":1114,"y":400.8},
{"id":"v39","x":1069.7,"y":470.8},{"id":"v39","x":1079.6,"y":444.4}
],
"ticks":[
{"t":"60","x":46,"y":254},{"t":"40","x":50,"y":347},{"t":"20","x":47,"y":445},{"t":"0","x":56.5,"y":539.5},
{"t":"60","x":72,"y":552},{"t":"40","x":108.7,"y":569},{"t":"20","x":145.4,"y":585.8},{"t":"0","x":182,"y":603},{"t":"−20","x":220.7,"y":620},{"t":"−40","x":258.6,"y":637.3},{"t":"−60","x":296.3,"y":655},
{"t":"60","x":520,"y":552},{"t":"40","x":483.5,"y":569},{"t":"20","x":446,"y":585.8},{"t":"0","x":408.9,"y":603},{"t":"−20","x":371.9,"y":620},{"t":"−40","x":334.6,"y":637.3},
{"t":"60","x":1162.2,"y":144.6},{"t":"40","x":1127.2,"y":172.4},{"t":"20","x":1089.7,"y":202.5},{"t":"0","x":1049.7,"y":234.6},{"t":"−20","x":1006,"y":269},{"t":"−40","x":959.7,"y":305.9},{"t":"−60","x":909.7,"y":345.3},{"t":"0.0006","x":864.7,"y":363.4},{"t":"0","x":921,"y":504.4},
{"t":"−60","x":906,"y":535.3},{"t":"−40","x":966.4,"y":561},{"t":"−20","x":1032.2,"y":586},{"t":"0","x":1116.3,"y":612.2},{"t":"20","x":1180.1,"y":639.4},{"t":"40","x":1253.7,"y":667.7},{"t":"60","x":1330,"y":697},
{"t":"0.02","x":715,"y":284},{"t":"0","x":697,"y":335},{"t":"−0.02","x":727,"y":385.7},{"t":"−0.04","x":727,"y":437.4},{"t":"−0.06","x":727,"y":488.4}
],
"italBig":[{"t":"x","x":175,"y":655},{"t":"x","x":403,"y":655},{"t":"x","x":1035.5,"y":203.5},{"t":"x","x":1078.5,"y":639.4}],
"italSub":[{"t":"d","x":1054.8,"y":211},{"t":"c","x":1096,"y":648}],
"romanSub":[{"t":"2","x":191.4,"y":663},{"t":"1","x":418,"y":663}],
"sans":[{"t":"t","x":31,"y":405},{"t":"P","x":881,"y":424}],
"titleA":[{"t":"(a) time−asymmetric","x":71,"y":102}],
"titleB":[{"t":"(b) time−asymmetric probability P","x":1547,"y":57}],
"greekTitle":[{"t":"ϕ","x":465,"y":102},{"t":"ψ","x":508,"y":102}],
"starTitle":[{"t":"*","x":484,"y":95}],
"subTitle":[{"t":"s","x":484,"y":115.5}],
"greekLegend":[{"t":"ϕ","x":686.4,"y":220.7},{"t":"ψ","x":724.5,"y":220.7}],
"starLegend":[{"t":"*","x":703,"y":213}],
"subLegend":[{"t":"s","x":704,"y":231.5}],
"legendRe":[{"t":"Re[","x":631.5,"y":220.7},{"t":"]","x":735.7,"y":220.7}]
},
"encoding":{
"x":{"field":"x","type":"quantitative","axis":null,"scale":{"domain":[0,1568],"nice":false,"zero":false}},
"y":{"field":"y","type":"quantitative","axis":null,"scale":{"domain":[731,0],"nice":false,"zero":false}}
},
"resolve":{"scale":{"size":"independent"}},
"layer":[
{"data":{"name":"top"},"mark":{"type":"line","interpolate":"linear-closed","strokeWidth":0,"fill":{"gradient":"radial","x1":0.5,"y1":1,"r1":0,"x2":0.5,"y2":1,"r2":0.72,"stops":[{"offset":0,"color":"#e2e0a6"},{"offset":0.5,"color":"#ecebc8"},{"offset":1,"color":"#ffffff"}]}},"encoding":{"order":{"value":null}}},
{"data":{"name":"volume"},"mark":{"type":"rect","fill":{"gradient":"linear","x1":0,"y1":0,"x2":1,"y2":0,"stops":[{"offset":0,"color":"#cbd9df"},{"offset":0.2,"color":"#c7d5c9"},{"offset":0.5,"color":"#c5d0ad"},{"offset":0.8,"color":"#c7d5c9"},{"offset":1,"color":"#cbd9df"}]}},"encoding":{"x2":{"field":"x2"},"y2":{"field":"y2"}}},
{"data":{"name":"volume"},"mark":{"type":"rect","fill":{"gradient":"linear","x1":0,"y1":0,"x2":0,"y2":1,"stops":[{"offset":0,"color":"rgba(205,218,225,0.25)"},{"offset":0.6,"color":"rgba(205,218,225,0)"},{"offset":1,"color":"rgba(215,226,235,0.85)"}]}},"encoding":{"x2":{"field":"x2"},"y2":{"field":"y2"}}},
{"data":{"name":"stripes"},"mark":{"type":"rule","strokeWidth":6,"color":"#eef1e0","opacity":0.42},"encoding":{"y":{"datum":243},"y2":{"datum":533}}},
{"data":{"name":"blobs"},"mark":{"type":"line","interpolate":"cardinal-closed","strokeWidth":9,"fillOpacity":0.55,"strokeOpacity":0.2},"encoding":{"order":{"value":null},"detail":{"field":"id"},"fill":{"field":"v","type":"quantitative","legend":null,"scale":{"domain":[-0.0642,-0.058,-0.05,-0.0415,-0.033,-0.025,-0.0167,-0.0085,0,0.008,0.0162,0.0245,0.0343],"range":["#721c8b","#4a25ab","#3f45c7","#4470cf","#4c93bd","#62a99b","#80b87a","#99bd5f","#b9bb4c","#d8ae3b","#e2963a","#e56a2e","#dc2626"]}},"stroke":{"field":"v","type":"quantitative","legend":null,"scale":{"domain":[-0.0642,-0.058,-0.05,-0.0415,-0.033,-0.025,-0.0167,-0.0085,0,0.008,0.0162,0.0245,0.0343],"range":["#721c8b","#4a25ab","#3f45c7","#4470cf","#4c93bd","#62a99b","#80b87a","#99bd5f","#b9bb4c","#d8ae3b","#e2963a","#e56a2e","#dc2626"]}}}},
{"data":{"name":"surface"},"mark":{"type":"line","interpolate":"linear-closed","strokeWidth":0,"fill":"#fca316"},"encoding":{"order":{"value":null}}},
{"data":{"name":"faint"},"mark":{"type":"trail","color":"#ef8a0c","opacity":0.45},"encoding":{"detail":{"field":"id"},"size":{"field":"w","type":"quantitative","legend":null,"scale":{"domain":[0,1],"range":[0,46]}}}},
{"data":{"name":"glow"},"mark":{"type":"trail","color":"#fdb618","opacity":0.6},"encoding":{"detail":{"field":"id"},"size":{"field":"w","type":"quantitative","legend":null,"scale":{"domain":[0,1],"range":[0,110]}}}},
{"data":{"name":"glow"},"mark":{"type":"trail","color":"#fdc91c","opacity":0.6},"encoding":{"detail":{"field":"id"},"size":{"field":"w","type":"quantitative","legend":null,"scale":{"domain":[0,1],"range":[0,78]}}}},
{"data":{"name":"glow"},"mark":{"type":"trail","color":"#ffe01e","opacity":0.7},"encoding":{"detail":{"field":"id"},"size":{"field":"w","type":"quantitative","legend":null,"scale":{"domain":[0,1],"range":[0,46]}}}},
{"data":{"name":"streaks"},"mark":{"type":"trail","color":"#f39210","opacity":0.55},"encoding":{"detail":{"field":"id"},"size":{"field":"w","type":"quantitative","legend":null,"scale":{"domain":[0,1],"range":[0,54]}}}},
{"data":{"name":"streaks"},"mark":{"type":"trail","color":"#dc7e0c","opacity":0.6},"encoding":{"detail":{"field":"id"},"size":{"field":"w","type":"quantitative","legend":null,"scale":{"domain":[0,1],"range":[0,34]}}}},
{"data":{"name":"streaks"},"mark":{"type":"trail","color":"#b3660a","opacity":0.65},"encoding":{"detail":{"field":"id"},"size":{"field":"w","type":"quantitative","legend":null,"scale":{"domain":[0,1],"range":[0,19]}}}},
{"data":{"name":"streaks"},"mark":{"type":"trail","color":"#7d4a0a","opacity":0.7},"encoding":{"detail":{"field":"id"},"size":{"field":"w","type":"quantitative","legend":null,"scale":{"domain":[0,1],"range":[0,8]}}}},
{"data":{"name":"faces"},"transform":[{"filter":"datum.id==='f0'"}],"mark":{"type":"line","interpolate":"linear-closed","strokeWidth":0,"fill":"#fba016"},"encoding":{"order":{"value":null}}},
{"data":{"name":"faces"},"transform":[{"filter":"datum.id==='f1'"}],"mark":{"type":"line","interpolate":"linear-closed","strokeWidth":0,"fill":{"gradient":"linear","x1":0,"y1":0,"x2":1,"y2":0,"stops":[{"offset":0,"color":"#fda416"},{"offset":0.25,"color":"#f79412"},{"offset":0.45,"color":"#e5860f"},{"offset":0.7,"color":"#ec8a10"},{"offset":1,"color":"#fca516"}]}},"encoding":{"order":{"value":null}}},
{"data":{"name":"faces"},"transform":[{"filter":"datum.id==='f3'"}],"mark":{"type":"line","interpolate":"linear-closed","strokeWidth":0,"fill":{"gradient":"linear","x1":0,"y1":0,"x2":1,"y2":0,"stops":[{"offset":0,"color":"#ffc01b"},{"offset":0.2,"color":"#fb9e14"},{"offset":0.45,"color":"#f08c10"},{"offset":0.75,"color":"#f8950f"},{"offset":1,"color":"#fdba1c"}]}},"encoding":{"order":{"value":null}}},
{"data":{"name":"faces"},"transform":[{"filter":"datum.id==='f4'"}],"mark":{"type":"line","interpolate":"linear-closed","strokeWidth":0,"fill":{"gradient":"linear","x1":0,"y1":0,"x2":1,"y2":0,"stops":[{"offset":0,"color":"#ffc81c"},{"offset":0.3,"color":"#fdae18"},{"offset":0.55,"color":"#fb9b14"},{"offset":0.8,"color":"#fdb018"},{"offset":1,"color":"#ffd41d"}]}},"encoding":{"order":{"value":null}}},
{"data":{"name":"ridges"},"mark":{"type":"line","interpolate":"monotone","color":"#ffc623","strokeWidth":8,"opacity":0.65,"yOffset":5},"encoding":{"detail":{"field":"id"},"order":{"value":null}}},
{"data":{"name":"ridges"},"mark":{"type":"line","interpolate":"monotone","color":"#a8660c","strokeWidth":2,"opacity":0.85},"encoding":{"detail":{"field":"id"},"order":{"value":null}}},
{"data":{"name":"ridges"},"transform":[{"filter":"datum.w>=0.5"}],"mark":{"type":"line","interpolate":"monotone","color":"#8a5208","strokeWidth":4.5,"opacity":0.9},"encoding":{"detail":{"field":"id"},"order":{"value":null}}},
{"data":{"name":"mesh"},"mark":{"type":"line","color":"#4a4a3c","strokeWidth":1.2,"strokeDash":[5,4],"opacity":0.6},"encoding":{"detail":{"field":"id"},"order":{"value":null}}},
{"data":{"name":"bar"},"mark":{"type":"rect"},"encoding":{"x2":{"field":"x2"},"y2":{"field":"y2"},"fill":{"field":"v","type":"quantitative","legend":null,"scale":{"domain":[-0.0642,-0.058,-0.05,-0.0415,-0.033,-0.025,-0.0167,-0.0085,0,0.008,0.0162,0.0245,0.0343],"range":["#721c8b","#4a25ab","#3f45c7","#4470cf","#4c93bd","#62a99b","#80b87a","#99bd5f","#b9bb4c","#d8ae3b","#e2963a","#e56a2e","#dc2626"]}}}},
{"data":{"name":"barSide"},"mark":{"type":"rect","fill":"#b3b3b3"},"encoding":{"x2":{"field":"x2"},"y2":{"field":"y2"}}},
{"data":{"name":"barTicks"},"mark":{"type":"rule","color":"#d9d9d9","strokeWidth":2},"encoding":{"x2":{"field":"x2"}}},
{"data":{"name":"rules"},"mark":{"type":"rule"},"encoding":{"x2":{"field":"x2"},"y2":{"field":"y2"},"strokeWidth":{"field":"k","type":"nominal","legend":null,"scale":{"domain":["a","b","c","d"],"range":[5,1.5,2,2.5]}},"color":{"field":"k","type":"nominal","legend":null,"scale":{"domain":["a","b","c","d"],"range":["#6e6e6e","#7f7f7f","#a5a5a5","#66788c"]}}}},
{"data":{"name":"ticks"},"mark":{"type":"text","font":"Liberation Serif","fontSize":70,"color":"#6b6b6b","baseline":"middle","align":"center"},"encoding":{"text":{"field":"t"}}},
{"data":{"name":"italBig"},"mark":{"type":"text","font":"Liberation Serif","fontStyle":"italic","fontSize":84,"color":"#6b6b6b","baseline":"middle","align":"center"},"encoding":{"text":{"field":"t"}}},
{"data":{"name":"italSub"},"mark":{"type":"text","font":"Liberation Serif","fontStyle":"italic","fontSize":62,"color":"#6b6b6b","baseline":"middle","align":"center"},"encoding":{"text":{"field":"t"}}},
{"data":{"name":"romanSub"},"mark":{"type":"text","font":"Liberation Serif","fontSize":60,"color":"#6b6b6b","baseline":"middle","align":"center"},"encoding":{"text":{"field":"t"}}},
{"data":{"name":"sans"},"mark":{"type":"text","font":"Open Sans","fontSize":66,"color":"#6b6b6b","baseline":"middle","align":"center"},"encoding":{"text":{"field":"t"}}},
{"data":{"name":"titleA"},"mark":{"type":"text","font":"Open Sans","fontSize":89,"color":"#6b6b6b","baseline":"alphabetic","align":"left"},"encoding":{"text":{"field":"t"}}},
{"data":{"name":"titleB"},"mark":{"type":"text","font":"Open Sans","fontSize":89,"color":"#6b6b6b","baseline":"alphabetic","align":"right"},"encoding":{"text":{"field":"t"}}},
{"data":{"name":"greekTitle"},"mark":{"type":"text","font":"Liberation Serif","fontStyle":"italic","fontSize":100,"color":"#6b6b6b","baseline":"alphabetic","align":"center"},"encoding":{"text":{"field":"t"}}},
{"data":{"name":"starTitle"},"mark":{"type":"text","font":"Liberation Serif","fontSize":70,"color":"#6b6b6b","baseline":"alphabetic","align":"center"},"encoding":{"text":{"field":"t"}}},
{"data":{"name":"subTitle"},"mark":{"type":"text","font":"Open Sans","fontStyle":"italic","fontSize":62,"color":"#6b6b6b","baseline":"alphabetic","align":"center"},"encoding":{"text":{"field":"t"}}},
{"data":{"name":"greekLegend"},"mark":{"type":"text","font":"Liberation Serif","fontStyle":"italic","fontSize":78,"color":"#000000","baseline":"alphabetic","align":"center"},"encoding":{"text":{"field":"t"}}},
{"data":{"name":"starLegend"},"mark":{"type":"text","font":"Liberation Serif","fontSize":62,"color":"#000000","baseline":"alphabetic","align":"center"},"encoding":{"text":{"field":"t"}}},
{"data":{"name":"subLegend"},"mark":{"type":"text","font":"Open Sans","fontStyle":"italic","fontSize":62,"color":"#000000","baseline":"alphabetic","align":"center"},"encoding":{"text":{"field":"t"}}},
{"data":{"name":"legendRe"},"mark":{"type":"text","font":"Open Sans","fontSize":66,"color":"#000000","baseline":"alphabetic","align":"left"},"encoding":{"text":{"field":"t"}}}
]
}
